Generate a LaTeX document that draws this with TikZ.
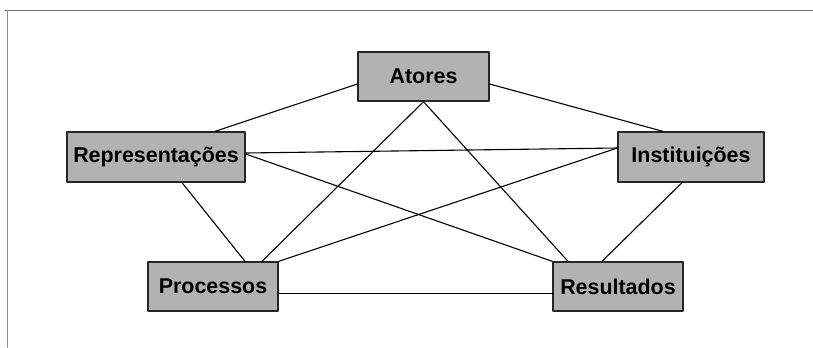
\documentclass[tikz,border=0pt]{standalone}
\usepackage{fontspec}
\setmainfont{Liberation Sans}
\usetikzlibrary{calc}
\begin{document}
\begin{tikzpicture}[x=1bp, y=-1bp, line cap=round, line join=round, font=\bfseries\fontsize{21.5}{24}\selectfont]
			\tikzset{caixa/.style={draw=black!85, line width=1.3bp, fill=black!30, inner sep=0pt, minimum height=49bp},
				liga/.style={line width=1.1bp, black}}
			\useasboundingbox (0,0) rectangle (813,347);
			\draw[black!55, line width=1.2bp] (5,10.5)--(813,10.5);
			\draw[black!45, line width=1.5bp] (7.5,10.5)--(7.5,347);
			\node[caixa, minimum width=131bp] (atores) at (423.5,76.5) {Atores};
			\node[caixa, minimum width=178bp, minimum height=50bp] (repr) at (156,157) {Representações};
			\node[caixa, minimum width=146bp, minimum height=50bp] (inst) at (691,157) {Instituições};
			\node[caixa, minimum width=130bp] (proc) at (213,286.5) {Processos};
			\node[caixa, minimum width=130bp] (res) at (618,286.5) {Resultados};
			\draw[liga] ($(atores.west)+(0,7.5)$)--($(repr.north)+(59,0)$);
			\draw[liga] ($(atores.east)+(0,7.5)$)--($(inst.north)+(-28,0)$);
			\draw[liga] (atores.south)--($(proc.north)+(49,0)$);
			\draw[liga] (atores.south)--($(res.north)+(-50,0)$);
			\draw[liga] ($(repr.east)+(0,-4)$)--($(inst.west)+(0,-9)$);
			\draw[liga] ($(repr.east)+(0,-3)$)--(res.north west);
			\draw[liga] ($(repr.south)+(26,0)$)--($(proc.north)+(32,0)$);
			\draw[liga] ($(inst.west)+(0,-9)$)--(proc.north east);
			\draw[liga] ($(inst.south)+(-9,0)$)--($(res.north)+(-16,0)$);
			\draw[liga] ($(proc.east)+(0,7)$)--($(res.west)+(0,7)$);
	\end{tikzpicture}
\end{document}
